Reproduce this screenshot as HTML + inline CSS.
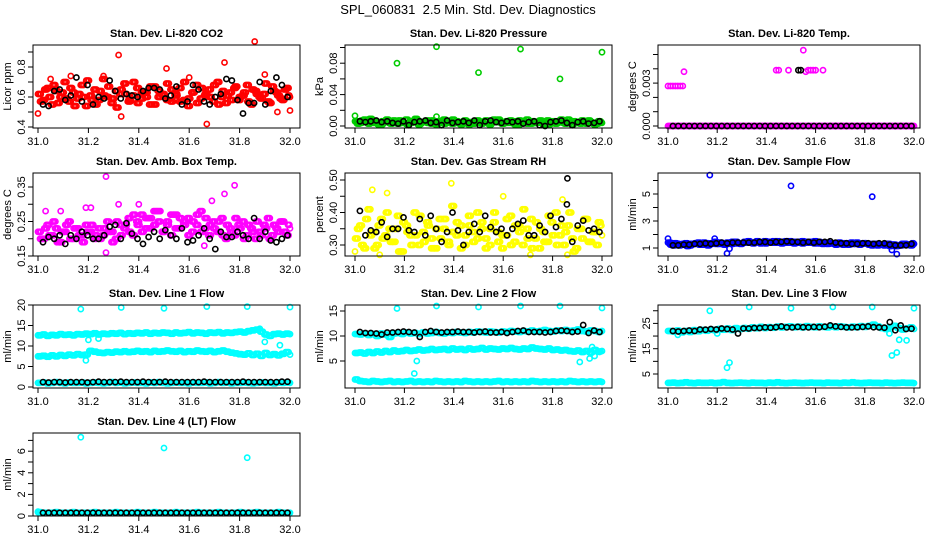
<!DOCTYPE html>
<html><head><meta charset="utf-8"><title>SPL_060831 2.5 Min. Std. Dev. Diagnostics</title>
<style>
html,body{margin:0;padding:0;background:#fff;}
svg{display:block;font-family:"Liberation Sans",Arial,sans-serif;}
</style></head>
<body>
<svg id="chart" width="936" height="540" viewBox="0 0 936 540" xmlns="http://www.w3.org/2000/svg">
<rect x="0" y="0" width="936" height="540" fill="#fff"/>
<text x="468" y="14" font-size="13" text-anchor="middle">SPL_060831&#160;&#160;2.5 Min. Std. Dev. Diagnostics</text>
</svg>
<script>
// ---------- data ----------
const xTickLabels = ["31.0","31.2","31.4","31.6","31.8","32.0"];
const xTickValues = [31.0,31.2,31.4,31.6,31.8,32.0];

const co2RedA = [0.62,0.58,0.66,0.55,0.64,0.60,0.70,0.57,0.63,0.59,0.68,0.54,0.61,0.65,0.58,0.72,0.60,0.56,0.64,0.62,0.69,0.57,0.61,0.66,0.59,0.63,0.55,0.67,0.60,0.62,0.58,0.65,0.61,0.57,0.70,0.59,0.63,0.56,0.66,0.62,0.60,0.68,0.55,0.64,0.61,0.58,0.67,0.60,0.63,0.57,0.65,0.62,0.59,0.69,0.56,0.64,0.61,0.58,0.66,0.60];
const co2RedB = [0.57,0.65,0.60,0.68,0.56,0.63,0.59,0.66,0.54,0.62,0.60,0.71,0.58,0.55,0.64,0.61,0.67,0.59,0.53,0.65,0.62,0.58,0.70,0.56,0.63,0.60,0.67,0.55,0.64,0.61,0.69,0.57,0.62,0.66,0.58,0.54,0.63,0.68,0.59,0.61,0.65,0.57,0.70,0.60,0.56,0.63,0.66,0.58,0.61,0.68,0.55,0.64,0.60,0.62,0.57,0.67,0.63,0.59,0.65,0.61];
const co2RedOutX = [31.32,31.33,31.51,31.74,31.86,31.67,31.95,32.0,31.0,31.6,31.9,31.05,31.13,31.26];
const co2RedOutY = [0.88,0.47,0.79,0.83,0.97,0.42,0.50,0.51,0.49,0.73,0.75,0.72,0.74,0.74];
const co2Black = [0.55,0.54,0.64,0.65,0.58,0.61,0.73,0.57,0.68,0.55,0.60,0.59,0.71,0.64,0.59,0.62,0.61,0.60,0.64,0.66,0.66,0.65,0.59,0.61,0.67,0.55,0.57,0.68,0.65,0.57,0.55,0.60,0.62,0.72,0.71,0.58,0.49,0.56,0.56,0.70,0.55,0.64,0.73,0.68,0.60];

const presGreenA = [0.006,0.004,0.008,0.003,0.007,0.005,0.002,0.006,0.004,0.007,0.003,0.005,0.008,0.004,0.006,0.002,0.005,0.007,0.003,0.006,0.004,0.008,0.005,0.003,0.006,0.004,0.007,0.002,0.005,0.006,0.003,0.007,0.004,0.005,0.008,0.003,0.006,0.004,0.002,0.007,0.005,0.003,0.006,0.004,0.007,0.005,0.002,0.006,0.004,0.008,0.003,0.005,0.006,0.004,0.007,0.003,0.005,0.002,0.006,0.004];
const presGreenB = [0.003,0.007,0.005,0.009,0.004,0.002,0.006,0.008,0.003,0.005,0.007,0.004,0.002,0.006,0.009,0.003,0.005,0.004,0.007,0.002,0.006,0.003,0.005,0.008,0.004,0.002,0.006,0.005,0.003,0.007,0.004,0.006,0.002,0.008,0.005,0.003,0.004,0.007,0.006,0.002,0.005,0.008,0.003,0.004,0.006,0.002,0.007,0.005,0.003,0.006,0.004,0.008,0.002,0.005,0.003,0.006,0.007,0.004,0.003,0.005];
const presGreenOutX = [31.17,31.33,31.5,31.67,31.83,32.0,31.33,31.0];
const presGreenOutY = [0.080,0.101,0.068,0.098,0.060,0.094,0.012,0.013];
const presBlack = [0.006,0.005,0.006,0.007,0.005,0.006,0.004,0.003,0.006,0.001,0.005,0.006,0.007,0.004,0.005,0.001,0.007,0.004,0.005,0.006,0.004,0.007,0.001,0.006,0.007,0.005,0.004,0.006,0.005,0.006,0.003,0.005,0.006,0.001,0.000,0.005,0.006,0.007,0.004,0.001,0.005,0.006,0.003,0.004,0.006];

const tempMagentaBase = [0,0,0,0,0,0,0,0,0,0,0,0,0,0,0,0,0,0,0,0,0,0,0,0,0,0,0,0,0,0,0,0,0,0,0,0,0,0,0,0,0,0,0,0,0,0,0,0,0,0,0,0,0,0,0,0,0,0,0,0,0,0,0,0,0,0,0,0,0,0];
const tempMagentaOutX = [31.0,31.01,31.02,31.03,31.04,31.05,31.06,31.065,31.44,31.45,31.49,31.55,31.56,31.57,31.58,31.59,31.6,31.63];
const tempMagentaOutY = [0.0028,0.0028,0.0028,0.0028,0.0028,0.0028,0.0028,0.0038,0.0039,0.0039,0.0039,0.0053,0.0038,0.0039,0.0039,0.0039,0.0039,0.0039];
const tempBlack = [0,0,0,0,0,0,0,0,0,0,0,0,0,0,0,0,0,0,0,0,0,0,0,0,0,0,0,0,0,0,0,0,0,0,0,0,0,0,0,0,0,0,0,0,0];
const tempBlackOutX = [31.53,31.54];
const tempBlackOutY = [0.0039,0.0039];

const ambA = [0.22,0.20,0.24,0.21,0.23,0.19,0.22,0.25,0.20,0.23,0.21,0.24,0.22,0.20,0.23,0.21,0.25,0.22,0.20,0.24,0.23,0.26,0.21,0.25,0.27,0.23,0.26,0.24,0.28,0.22,0.25,0.27,0.23,0.26,0.24,0.21,0.25,0.27,0.22,0.26,0.24,0.23,0.25,0.21,0.24,0.22,0.26,0.23,0.20,0.24,0.22,0.25,0.21,0.23,0.20,0.24,0.22,0.25,0.21,0.23];
const ambB = [0.20,0.23,0.21,0.25,0.19,0.22,0.24,0.20,0.23,0.21,0.19,0.22,0.24,0.21,0.20,0.23,0.22,0.19,0.25,0.21,0.24,0.22,0.27,0.24,0.22,0.26,0.23,0.28,0.25,0.22,0.24,0.21,0.27,0.23,0.25,0.26,0.22,0.24,0.28,0.23,0.21,0.25,0.22,0.26,0.20,0.23,0.21,0.24,0.25,0.21,0.23,0.20,0.22,0.24,0.26,0.21,0.23,0.25,0.22,0.24];
const ambOutX = [31.27,31.27,31.78,31.74,31.69,31.32,31.19,31.21,31.4,31.03,31.09,31.66];
const ambOutY = [0.38,0.16,0.355,0.33,0.31,0.30,0.29,0.29,0.30,0.28,0.28,0.18];
const ambBlack = [0.19,0.205,0.20,0.21,0.185,0.21,0.20,0.22,0.21,0.20,0.20,0.21,0.235,0.24,0.20,0.245,0.215,0.20,0.185,0.205,0.22,0.20,0.225,0.21,0.20,0.23,0.19,0.195,0.21,0.23,0.20,0.17,0.22,0.205,0.205,0.22,0.21,0.20,0.26,0.20,0.22,0.195,0.19,0.20,0.21];

const rhA = [0.32,0.36,0.29,0.41,0.34,0.30,0.38,0.33,0.35,0.31,0.39,0.28,0.36,0.33,0.40,0.30,0.34,0.37,0.32,0.29,0.38,0.35,0.31,0.42,0.33,0.36,0.30,0.39,0.34,0.32,0.37,0.29,0.35,0.40,0.31,0.33,0.38,0.30,0.36,0.34,0.41,0.32,0.29,0.37,0.35,0.31,0.39,0.33,0.30,0.36,0.34,0.40,0.28,0.35,0.32,0.38,0.31,0.34,0.37,0.33];
const rhB = [0.35,0.30,0.38,0.33,0.29,0.36,0.32,0.40,0.31,0.35,0.28,0.37,0.34,0.30,0.33,0.39,0.31,0.36,0.29,0.35,0.32,0.38,0.30,0.34,0.37,0.29,0.33,0.36,0.31,0.40,0.35,0.32,0.30,0.37,0.34,0.29,0.33,0.39,0.31,0.36,0.30,0.35,0.38,0.32,0.29,0.34,0.31,0.37,0.40,0.33,0.30,0.36,0.32,0.29,0.35,0.38,0.31,0.34,0.30,0.36];
const rhOutX = [31.39,31.07,31.13,31.6,31.84,31.0,31.1,31.71,31.86];
const rhOutY = [0.49,0.47,0.46,0.45,0.44,0.28,0.27,0.27,0.27];
const rhBlack = [0.405,0.33,0.345,0.34,0.37,0.325,0.35,0.35,0.385,0.345,0.34,0.38,0.33,0.39,0.35,0.31,0.34,0.40,0.345,0.30,0.34,0.365,0.34,0.39,0.355,0.34,0.35,0.33,0.35,0.365,0.375,0.33,0.33,0.36,0.34,0.39,0.355,0.38,0.425,0.31,0.36,0.375,0.345,0.35,0.34];
const rhBlackOutX = [31.86];
const rhBlackOutY = [0.505];

const sfA = [1.4,1.2,1.3,1.25,1.35,1.2,1.3,1.4,1.25,1.35,1.3,1.45,1.3,1.35,1.4,1.3,1.45,1.35,1.4,1.5,1.4,1.45,1.35,1.5,1.45,1.4,1.5,1.45,1.4,1.5,1.45,1.4,1.35,1.45,1.4,1.5,1.35,1.4,1.3,1.35,1.25,1.3,1.35,1.25,1.3,1.4,1.3,1.35,1.25,1.3,1.2,1.25,1.3,1.15,1.25,1.2,1.3,1.25,1.2,1.3];
const sfB = [1.25,1.35,1.2,1.3,1.15,1.3,1.35,1.25,1.4,1.2,1.35,1.3,1.4,1.25,1.35,1.45,1.35,1.3,1.45,1.4,1.35,1.5,1.4,1.35,1.45,1.5,1.4,1.35,1.5,1.4,1.35,1.45,1.5,1.4,1.45,1.35,1.45,1.3,1.4,1.35,1.3,1.4,1.25,1.35,1.4,1.3,1.25,1.35,1.3,1.2,1.3,1.25,1.2,1.3,1.25,1.15,1.2,1.3,1.25,1.35];
const sfOutX = [31.17,31.5,31.83,31.24,31.25,31.93,31.91,31.0,31.19];
const sfOutY = [6.4,5.6,4.8,0.6,0.95,0.55,0.85,1.7,1.7];
const sfBlack = [1.2,1.2,1.25,1.25,1.3,1.3,1.35,1.3,1.35,1.4,1.35,1.4,1.4,1.4,1.4,1.4,1.45,1.45,1.4,1.45,1.45,1.5,1.45,1.45,1.4,1.45,1.4,1.45,1.45,1.5,1.4,1.35,1.35,1.3,1.3,1.35,1.35,1.3,1.35,1.35,1.25,1.2,1.2,1.2,1.3];

const l1Top = [12.6,12.8,12.5,12.7,12.6,12.9,12.7,12.8,12.6,12.9,12.8,13.0,12.9,13.1,12.8,13.0,12.9,13.1,13.0,13.2,12.9,13.1,13.0,13.2,13.1,13.3,13.0,13.2,13.1,13.3,13.2,13.0,13.3,13.1,13.2,13.4,13.1,13.3,13.2,13.0,13.3,13.2,13.4,13.1,13.3,13.2,13.4,13.5,13.3,13.6,13.8,14.0,13.5,12.8,12.5,12.9,13.0,12.8,13.0,12.9];
const l1Mid = [7.5,7.6,7.4,7.7,7.5,7.8,7.6,7.9,7.7,8.0,7.8,7.9,8.8,8.6,8.4,8.3,8.5,8.4,8.6,8.5,8.7,8.5,8.6,8.8,8.6,8.7,8.5,8.8,8.6,8.7,8.9,8.7,8.6,8.8,8.5,8.7,8.6,8.9,8.7,8.6,8.8,8.5,8.7,8.9,8.6,8.4,8.2,8.0,7.9,8.2,7.8,8.1,7.6,8.3,7.8,8.0,7.7,8.1,8.5,7.9];
const l1Low = [1.0,1.1,0.9,1.0,1.2,1.0,0.9,1.1,1.0,1.0,1.1,0.9,1.0,1.1,1.0,0.9,1.0,1.2,1.0,1.1,0.9,1.0,1.1,1.0,1.0,0.9,1.1,1.0,1.2,1.0,0.9,1.0,1.1,1.0,1.0,0.9,1.1,1.0,1.0,1.1,0.9,1.0,1.2,1.0,1.1,0.9,1.0,1.0,1.1,1.0,0.9,1.0,1.1,1.0,1.0,0.9,1.1,1.0,1.1,1.0];
const l1OutX = [31.17,31.33,31.5,31.67,31.83,32.0,31.2,31.24,31.19,31.9,31.96,31.92,31.88];
const l1OutY = [19.0,19.4,19.2,19.6,19.6,19.5,11.5,11.8,6.5,11.0,10.2,12.5,14.2];
const l1Black = [1.2,1.1,1.2,1.2,1.1,1.2,1.2,1.2,1.1,1.2,1.3,1.2,1.2,1.2,1.3,1.2,1.2,1.2,1.3,1.2,1.2,1.2,1.3,1.2,1.2,1.2,1.2,1.2,1.2,1.3,1.2,1.2,1.2,1.2,1.2,1.2,1.3,1.2,1.2,1.2,1.2,1.2,1.2,1.3,1.3];

const l2Top = [10.4,10.3,10.5,10.2,10.4,10.0,10.5,10.3,9.8,10.5,10.6,10.4,10.7,10.5,10.6,10.4,10.7,10.5,10.6,10.8,10.6,10.5,10.7,10.6,10.8,10.7,10.6,10.8,10.7,10.9,10.8,10.7,10.9,10.8,10.7,10.9,10.8,11.0,10.9,10.8,11.0,10.9,11.1,10.9,11.0,11.2,11.0,10.9,11.1,11.0,11.2,11.0,11.1,11.3,11.0,10.9,11.1,11.0,10.8,11.0];
const l2Mid = [6.6,6.7,6.5,6.8,6.6,6.9,6.7,7.0,6.8,7.1,6.9,7.0,7.2,7.0,7.1,7.3,7.1,7.2,7.4,7.2,7.3,7.4,7.2,7.5,7.3,7.4,7.2,7.5,7.3,7.4,7.6,7.3,7.5,7.4,7.3,7.5,7.4,7.6,7.4,7.3,7.5,7.4,7.7,7.5,7.4,7.3,7.5,7.2,7.3,7.1,7.2,7.0,6.9,7.1,6.8,7.0,6.7,7.2,6.9,7.0];
const l2Low = [1.3,1.0,0.9,0.8,1.0,0.9,0.8,0.9,1.0,0.8,0.9,0.8,0.9,1.0,0.8,0.9,0.8,0.9,0.8,1.0,0.9,0.8,0.9,0.8,0.9,0.8,1.0,0.9,0.8,0.9,0.8,0.9,0.8,0.9,1.0,0.8,0.9,0.8,0.9,0.8,0.9,0.8,1.0,0.9,0.8,0.9,0.8,0.9,0.8,0.9,0.8,1.0,0.9,0.8,0.9,0.8,0.9,0.8,0.9,0.8];
const l2OutX = [31.17,31.33,31.5,31.67,31.83,32.0,31.24,31.25,31.91,31.95,31.96,31.97,31.99];
const l2OutY = [15.5,16.0,15.8,16.0,16.0,15.6,2.5,5.0,4.8,5.5,7.8,6.0,6.8];
const l2Black = [10.8,10.6,10.6,10.5,10.3,10.7,10.7,10.8,10.9,10.8,10.7,9.8,10.8,11.0,10.8,10.7,10.8,10.8,10.9,10.8,10.8,10.7,10.8,10.9,10.7,10.7,10.8,10.6,10.8,11.0,11.1,10.8,10.8,10.8,10.7,10.8,11.0,11.1,11.0,10.8,10.9,12.2,10.6,11.1,10.8];

const l3Top = [22.0,21.8,22.2,21.5,22.0,21.6,22.3,21.9,22.4,22.1,22.5,22.3,22.8,22.5,23.0,22.4,23.1,22.8,23.2,22.9,23.4,23.1,23.6,23.2,23.5,23.3,23.7,23.4,23.6,23.8,23.5,23.7,23.4,23.9,23.6,23.5,23.8,23.6,23.4,23.7,23.5,23.8,23.6,23.4,23.7,23.5,23.9,23.6,24.0,24.5,23.8,23.2,22.8,23.5,24.0,23.2,22.6,23.0,23.4,22.8];
const l3Low = [1.5,1.6,1.4,1.5,1.7,1.5,1.4,1.6,1.5,1.5,1.6,1.4,1.5,1.8,1.5,1.4,1.5,1.6,1.5,1.4,1.6,1.5,1.5,1.4,1.6,1.5,1.7,1.5,1.4,1.5,1.6,1.5,1.4,1.5,1.6,1.5,1.5,1.4,1.6,1.5,1.5,1.4,1.6,1.5,1.7,1.5,1.4,1.5,1.6,1.5,1.5,1.4,1.6,1.5,1.4,1.5,1.6,1.5,1.5,1.4];
const l3OutX = [31.17,31.33,31.5,31.67,31.83,32.0,31.24,31.25,31.91,31.93,31.94,31.97,31.9,31.2,31.04];
const l3OutY = [30.0,31.5,31.0,31.5,31.5,31.0,7.5,9.5,12.3,13.5,18.5,18.3,21.0,21.0,20.5];
const l3Black = [22.0,21.8,22.0,22.2,22.0,22.6,22.5,22.8,22.6,23.0,22.8,22.6,21.0,23.0,23.0,23.2,23.2,23.4,23.3,23.5,23.8,23.4,23.4,23.6,23.5,23.4,23.6,23.5,23.7,24.2,23.8,23.6,23.4,23.4,23.5,23.6,23.8,23.5,23.4,23.3,25.5,22.3,24.2,22.8,22.9];

const l4Cyan = [0.35,0.3,0.3,0.3,0.35,0.3,0.3,0.3,0.35,0.3,0.3,0.3,0.3,0.35,0.3,0.3,0.3,0.3,0.35,0.3,0.3,0.3,0.3,0.35,0.3,0.3,0.3,0.35,0.3,0.3,0.3,0.3,0.35,0.3,0.3,0.3,0.3,0.35,0.3,0.3,0.3,0.3,0.35,0.3,0.3,0.3,0.3,0.35,0.3,0.3,0.3,0.35,0.3,0.3,0.3,0.3,0.35,0.3,0.3,0.3];
const l4OutX = [31.17,31.5,31.83,31.0];
const l4OutY = [7.3,6.3,5.4,0.4];
const l4Black = [0.3,0.3,0.3,0.3,0.3,0.3,0.3,0.3,0.3,0.3,0.3,0.3,0.3,0.3,0.3,0.3,0.3,0.3,0.3,0.3,0.3,0.3,0.3,0.3,0.3,0.3,0.3,0.3,0.3,0.3,0.3,0.3,0.3,0.3,0.3,0.3,0.3,0.3,0.3,0.3,0.3,0.3,0.3,0.3,0.3];

const co2Ticks=[0.4,0.5,0.6,0.7,0.8,0.9], co2Labels=["0.4","","0.6","","0.8",""];
const presTicks=[0,0.02,0.04,0.06,0.08,0.10], presLabels=["0.00","","0.04","","0.08",""];
const tempTicks=[0,0.001,0.002,0.003,0.004,0.005], tempLabels=["0.000","","","0.003","",""];
const ambTicks=[0.15,0.20,0.25,0.30,0.35], ambLabels=["0.15","","0.25","","0.35"];
const rhTicks=[0.30,0.35,0.40,0.45,0.50], rhLabels=["0.30","","0.40","","0.50"];
const sfTicks=[1,2,3,4,5,6], sfLabels=["1","","3","","5",""];
const l1Ticks=[0,5,10,15,20], l1Labels=["0","5","10","15","20"];
const l2Ticks=[5,10,15], l2Labels=["5","10","15"];
const l3Ticks=[5,10,15,20,25,30], l3Labels=["5","","15","","25",""];
const l4Ticks=[0,1,2,3,4,5,6,7], l4Labels=["0","","2","","4","","6",""];

// ---------- layout ----------
const COLS=[{bx:33,bw:267,x0:38,xw:252},{bx:345,bw:267,x0:355,xw:247},{bx:658,bw:262,x0:668,xw:246}];
const ROWS=[45,173,305,433];
const BH=83;
const NS="http://www.w3.org/2000/svg";
const svg=document.getElementById('chart');
function mk(tag,attrs,parent){const e=document.createElementNS(NS,tag);for(const k in attrs)e.setAttribute(k,attrs[k]);(parent||svg).appendChild(e);return e;}

function panel(key,title,ylab,col,row,yRef,yRefPx,pxPerUnit,ticks,labels,series){
  const C=COLS[col], top=ROWS[row], bot=top+BH;
  const g=mk('g',{});
  
  
  const xs=v=>C.x0+(v-31)*C.xw;
  const ys=v=>yRefPx-(v-yRef)*pxPerUnit;
  const t=mk('text',{x:C.bx+C.bw/2,y:top-8,'font-size':11,'font-weight':'bold','text-anchor':'middle'},g);
  t.textContent=title;
  
  
  const pg=mk('g',{fill:'none','stroke-width':1.6},g);
  
  
  series.forEach(s=>{
    const n=s.y.length;
    const a=s.x0!==undefined?s.x0:31, b=s.x1!==undefined?s.x1:32;
    const step=(b-a)/(n-1);
    const offs=s.x?[0]:(s.dense===false?[0]:[0,step/3,2*step/3]);
    offs.forEach(o=>{
      for(let i=0;i<n;i++){
        const xv=(s.x?s.x[i]:a+i*step)+o;
        if(xv>32.001) continue;
        const c=mk('circle',{cx:xs(xv).toFixed(1),cy:ys(s.y[i]).toFixed(1),r:2.6,stroke:s.c},pg);
        
        
      }
    });
  });
  const b=mk('rect',{x:C.bx,y:top,width:C.bw,height:BH,fill:'none',stroke:'#000','stroke-width':1},g);
  
  
  const xa=mk('g',{},g);
  
  
  xTickValues.forEach((v,i)=>{
    mk('line',{x1:xs(v),x2:xs(v),y1:bot,y2:bot+5,stroke:'#000'},xa);
    const tl=mk('text',{x:xs(v),y:bot+17,'font-size':11,'text-anchor':'middle'},xa);
    tl.textContent=xTickLabels[i];
    
    
  });
  const ya=mk('g',{},g);
  
  
  ticks.forEach((v,i)=>{
    const py=ys(v);
    mk('line',{x1:C.bx-5,x2:C.bx,y1:py,y2:py,stroke:'#000'},ya);
    if(labels[i]){
      const tl=mk('text',{x:C.bx-8,y:py,'font-size':11,'text-anchor':'middle',transform:`rotate(-90 ${C.bx-8} ${py})`},ya);
      tl.textContent=labels[i];
      
      
    }
  });
  const yl=mk('text',{x:C.bx-22,y:top+BH/2,'font-size':11,'text-anchor':'middle',transform:`rotate(-90 ${C.bx-22} ${top+BH/2})`},g);
  yl.textContent=ylab;
  
  
}

const RED='#ff0000',BLK='#000000',GRN='#00cc00',MAG='#ff00ff',YEL='#ffff00',BLU='#0000ff',CYA='#00ffff';

panel('co2','Stan. Dev. Li-820 CO2','Licor ppm',0,0,0.4,127,150,co2Ticks,co2Labels,[
 {y:co2RedA,c:RED},{y:co2RedB,c:RED,x0:31.008,x1:31.992},{x:co2RedOutX,y:co2RedOutY,c:RED},{y:co2Black,c:BLK,x0:31.02,x1:31.99,dense:false}]);
panel('pressure','Stan. Dev. Li-820 Pressure','kPa',1,0,0,126,785,presTicks,presLabels,[
 {y:presGreenA,c:GRN},{y:presGreenB,c:GRN,x0:31.008,x1:31.992},{x:presGreenOutX,y:presGreenOutY,c:GRN},{y:presBlack,c:BLK,x0:31.02,x1:31.99,dense:false}]);
panel('licor-temp','Stan. Dev. Li-820 Temp.','degrees C',2,0,0,126,14300,tempTicks,tempLabels,[
 {y:tempMagentaBase,c:MAG},{x:tempMagentaOutX,y:tempMagentaOutY,c:MAG},{y:tempBlack,c:BLK,x0:31.02,x1:31.99,dense:false},{x:tempBlackOutX,y:tempBlackOutY,c:BLK}]);
panel('amb-temp','Stan. Dev. Amb. Box Temp.','degrees C',0,1,0.15,256,345,ambTicks,ambLabels,[
 {y:ambA,c:MAG},{y:ambB,c:MAG,x0:31.008,x1:31.992},{x:ambOutX,y:ambOutY,c:MAG},{y:ambBlack,c:BLK,x0:31.02,x1:31.99,dense:false}]);
panel('rh','Stan. Dev. Gas Stream RH','percent',1,1,0.30,245,325,rhTicks,rhLabels,[
 {y:rhA,c:YEL},{y:rhB,c:YEL,x0:31.008,x1:31.992},{x:rhOutX,y:rhOutY,c:YEL},{y:rhBlack,c:BLK,x0:31.02,x1:31.99,dense:false},{x:rhBlackOutX,y:rhBlackOutY,c:BLK}]);
panel('sample-flow','Stan. Dev. Sample Flow','ml/min',2,1,1,248,13.5,sfTicks,sfLabels,[
 {y:sfA,c:BLU},{y:sfB,c:BLU,x0:31.008,x1:31.992},{x:sfOutX,y:sfOutY,c:BLU},{y:sfBlack,c:BLK,x0:31.02,x1:31.99,dense:false}]);
panel('line1','Stan. Dev. Line 1 Flow','ml/min',0,2,0,387,4.1,l1Ticks,l1Labels,[
 {y:l1Top,c:CYA},{y:l1Mid,c:CYA},{y:l1Low,c:CYA},{x:l1OutX,y:l1OutY,c:CYA},{y:l1Black,c:BLK,x0:31.02,x1:31.99,dense:false}]);
panel('line2','Stan. Dev. Line 2 Flow','ml/min',1,2,5,361,5.0,l2Ticks,l2Labels,[
 {y:l2Top,c:CYA},{y:l2Mid,c:CYA},{y:l2Low,c:CYA},{x:l2OutX,y:l2OutY,c:CYA},{y:l2Black,c:BLK,x0:31.02,x1:31.99,dense:false}]);
panel('line3','Stan. Dev. Line 3 Flow','ml/min',2,2,5,374,2.53,l3Ticks,l3Labels,[
 {y:l3Top,c:CYA},{y:l3Low,c:CYA},{x:l3OutX,y:l3OutY,c:CYA},{y:l3Black,c:BLK,x0:31.02,x1:31.99,dense:false}]);
panel('line4','Stan. Dev. Line 4 (LT) Flow','ml/min',0,3,0,516,10.8,l4Ticks,l4Labels,[
 {y:l4Cyan,c:CYA},{x:l4OutX,y:l4OutY,c:CYA},{y:l4Black,c:BLK,x0:31.02,x1:31.99,dense:false}]);
</script>
</body></html>
